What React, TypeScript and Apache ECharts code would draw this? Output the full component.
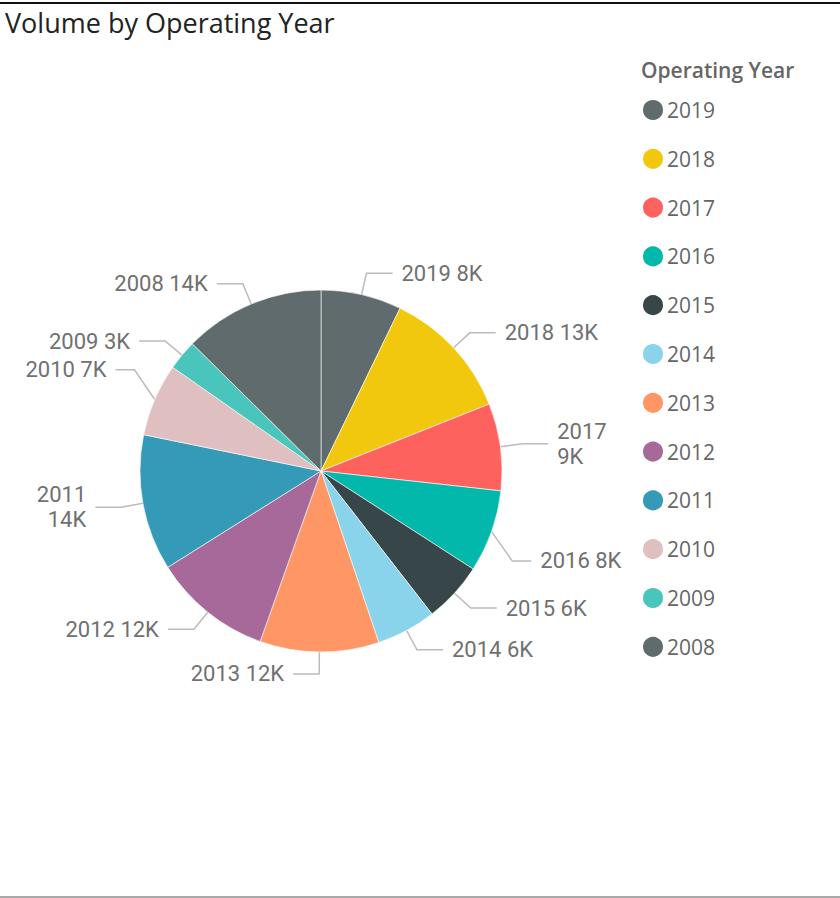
import React, { useEffect, useRef } from "react";
import * as echarts from "echarts";

const years = ["2019", "2018", "2017", "2016", "2015", "2014", "2013", "2012", "2011", "2010", "2009", "2008"];
const volumes = [8060, 13190, 8710, 8240, 6030, 5970, 11910, 11880, 13600, 7280, 3020, 14100];
const colors = ["#5F6B6D", "#F2C80F", "#FD625E", "#01B8AA", "#374649", "#8AD4EB", "#FE9666", "#A66999", "#3599B8", "#DFBFBF", "#4AC5BB", "#5F6B6D"];
const wrappedLabels = ["2017", "2011"];
// [dx, dy] nudges applied to a few labels to mirror the reference label arrangement
const labelNudge: Record<string, [number, number]> = { "2016": [-7, 22], "2010": [7, -21] };

export default function App() {
  const ref = useRef<HTMLDivElement>(null);
  useEffect(() => {
    if (!ref.current) return;
    const chart = echarts.init(ref.current, null, { renderer: "svg" });
    chart.setOption({
      animation: false,
      title: [
        {
          text: "Volume by Operating Year",
          left: 0,
          top: 4,
          textStyle: { fontFamily: "Open Sans", fontSize: 27, fontWeight: "normal", color: "#222" },
        },
        {
          text: "Operating Year",
          left: 636,
          top: 54,
          textStyle: { fontFamily: "Open Sans", fontSize: 21, fontWeight: 600, color: "#666" },
        },
      ],
      legend: {
        orient: "vertical",
        left: 636,
        top: 93,
        itemWidth: 22,
        itemHeight: 22,
        itemGap: 24.8,
        icon: "circle",
        textStyle: { fontFamily: "Open Sans", fontSize: 21, color: "#666", lineHeight: 22, padding: [0, 0, 0, -2] },
        data: years,
      },
      graphic: [
        { type: "line", shape: { x1: 0, y1: 3, x2: 840, y2: 3 }, style: { stroke: "#111", lineWidth: 2 } },
        { type: "line", shape: { x1: 0, y1: 897, x2: 840, y2: 897 }, style: { stroke: "#555", lineWidth: 1 } },
      ],
      series: [
        {
          type: "pie",
          center: [321, 471],
          radius: [0, 181],
          startAngle: 90,
          clockwise: true,
          avoidLabelOverlap: true,
          itemStyle: { borderColor: "#fff", borderWidth: 0.6 },
          label: {
            show: true,
            fontFamily: "Roboto",
            fontSize: 22,
            color: "#707070",
            lineHeight: 25,
            distanceToLabelLine: 9,
            formatter: (p: any) => {
              const k = Math.round(p.value / 1000) + "K";
              return wrappedLabels.includes(p.name) ? `${p.name}\n${k}` : `${p.name} ${k}`;
            },
          },
          labelLine: {
            show: true,
            length: 22,
            length2: 26,
            lineStyle: { color: "#bbb", width: 1.5 },
          },
          labelLayout: (params: any) => {
            const nudge = labelNudge[years[params.dataIndex]];
            const pts = params.labelLinePoints;
            if (!nudge || !pts || pts.length < 3) return {};
            const [dx, dy] = nudge;
            return {
              dx,
              dy,
              labelLinePoints: [
                pts[0],
                [pts[1][0], pts[1][1] + dy],
                [pts[2][0] + dx, pts[2][1] + dy],
              ],
            };
          },
          emphasis: { disabled: true },
          data: years.map((y, i) => ({ name: y, value: volumes[i], itemStyle: { color: colors[i] } })),
        },
      ],
    });
    return () => chart.dispose();
  }, []);
  return <div ref={ref} style={{ position: "absolute", left: 0, top: 0, width: 840, height: 898 }} />;
}
